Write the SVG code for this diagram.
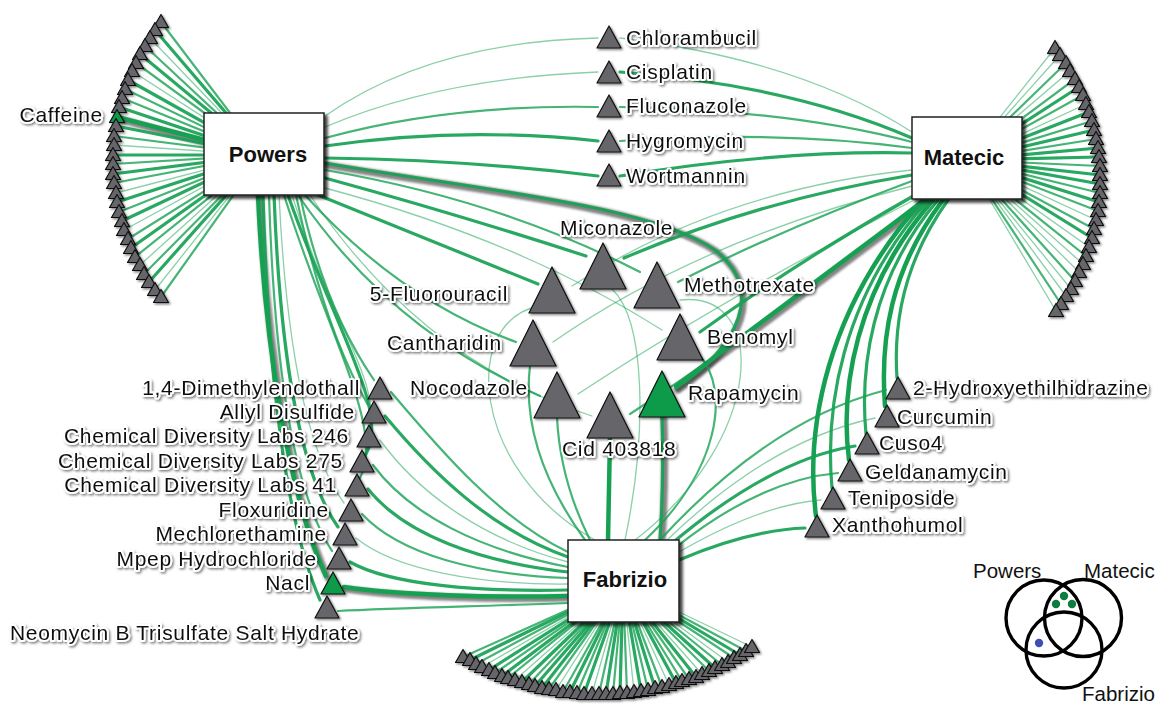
<svg xmlns="http://www.w3.org/2000/svg" xmlns:xlink="http://www.w3.org/1999/xlink" width="1158" height="705" viewBox="0 0 1158 705">
<defs>
<style>
.e{fill:none;stroke:#16a152;stroke-linecap:round}
.a{stroke-width:1.3;stroke-opacity:.5}
.b{stroke-width:2.2;stroke-opacity:.8}
.c{stroke-width:3.2;stroke-opacity:.92}
.d{stroke-width:4.5}
.s{fill:none;stroke:#333;stroke-width:7;stroke-opacity:.6;stroke-linecap:round}
.tg{fill:#66666b;stroke:#111;stroke-width:1.2;stroke-linejoin:round}
.tr{fill:#0f9a4a;stroke:#111;stroke-width:1.2;stroke-linejoin:round}
.box{fill:#fff;stroke:#222;stroke-width:1.5}
.t{font-family:"Liberation Sans",Arial,sans-serif;font-size:21px;letter-spacing:.7px;fill:#111}
.lg{font-family:"Liberation Sans",Arial,sans-serif;font-size:20.5px;fill:#111}
.h{paint-order:stroke;stroke:#fff;stroke-width:4;stroke-linejoin:round}
.bl{font-family:"Liberation Sans",Arial,sans-serif;font-size:22px;font-weight:bold;fill:#111}
.vc{fill:none;stroke:#000;stroke-width:3.4}
</style>
<path id="ts" d="M0 -7.5L7.5 5.5L-7.5 5.5Z"/>
<path id="tm" d="M0 -11L12 11L-12 11Z"/>
<path id="tl" d="M0 -23L23 23L-23 23Z"/>
<filter id="ds" x="-10%" y="-10%" width="130%" height="130%"><feDropShadow dx="3" dy="3" stdDeviation="1.5" flood-color="#000" flood-opacity="0.75"/></filter>
<filter id="dt" x="-20%" y="-20%" width="150%" height="150%"><feDropShadow dx="1.5" dy="1.5" stdDeviation="1" flood-color="#000" flood-opacity="0.5"/></filter>
<filter id="bl" x="-5%" y="-5%" width="110%" height="110%"><feGaussianBlur stdDeviation="1.3"/></filter>
</defs>
<rect width="1158" height="705" fill="#fff"/>
<g id="connectors">
<g id="shadows" transform="translate(2 2)" filter="url(#bl)">
<path class="s" d="M117 117L230 148"/>
<path class="s" d="M325 163C480 190 650 205 715 250C765 290 740 345 676 388"/>
<path class="s" d="M925 200L676 386"/>
<path class="s" d="M660 540Q664 480 662 416"/>
<path class="s" d="M258 195C265 350 290 500 326 576"/>
<path class="s" d="M344 587C400 595 490 598 568 596"/>
</g>
<g id="powers-fan-edges">
<path class="e b" d="M161 22L262 155"/>
<path class="e c" d="M155 30L262 155"/>
<path class="e a" d="M150 38L262 155"/>
<path class="e b" d="M145 46L262 155"/>
<path class="e c" d="M140 54L262 155"/>
<path class="e b" d="M136 63L262 155"/>
<path class="e a" d="M132 71L262 155"/>
<path class="e c" d="M128 80L262 155"/>
<path class="e b" d="M125 89L262 155"/>
<path class="e b" d="M122 98L262 155"/>
<path class="e c" d="M119 107L262 155"/>
<path class="e d" d="M117 117L262 155"/>
<path class="e c" d="M116 126L262 155"/>
<path class="e b" d="M114 136L262 155"/>
<path class="e a" d="M114 145L262 155"/>
<path class="e c" d="M113 155L262 155"/>
<path class="e b" d="M113 164L262 155"/>
<path class="e c" d="M113 174L262 155"/>
<path class="e b" d="M114 183L262 155"/>
<path class="e a" d="M116 193L262 155"/>
<path class="e c" d="M117 202L262 155"/>
<path class="e b" d="M119 212L262 155"/>
<path class="e c" d="M122 221L262 155"/>
<path class="e a" d="M124 230L262 155"/>
<path class="e b" d="M128 239L262 155"/>
<path class="e c" d="M131 248L262 155"/>
<path class="e b" d="M135 257L262 155"/>
<path class="e a" d="M140 265L262 155"/>
<path class="e b" d="M144 274L262 155"/>
<path class="e c" d="M149 282L262 155"/>
<path class="e a" d="M155 290L262 155"/>
<path class="e b" d="M161 297L262 155"/>
</g>
<g id="matecic-fan-edges">
<path class="e a" d="M1055 48L966 160"/>
<path class="e a" d="M1060 55L966 160"/>
<path class="e b" d="M1066 63L966 160"/>
<path class="e a" d="M1070 71L966 160"/>
<path class="e b" d="M1075 79L966 160"/>
<path class="e c" d="M1079 87L966 160"/>
<path class="e b" d="M1083 95L966 160"/>
<path class="e a" d="M1086 104L966 160"/>
<path class="e c" d="M1089 112L966 160"/>
<path class="e b" d="M1092 121L966 160"/>
<path class="e c" d="M1094 130L966 160"/>
<path class="e b" d="M1096 139L966 160"/>
<path class="e c" d="M1098 148L966 160"/>
<path class="e c" d="M1099 157L966 160"/>
<path class="e b" d="M1100 166L966 160"/>
<path class="e c" d="M1100 175L966 160"/>
<path class="e c" d="M1100 184L966 160"/>
<path class="e b" d="M1100 193L966 160"/>
<path class="e c" d="M1099 202L966 160"/>
<path class="e b" d="M1098 211L966 160"/>
<path class="e a" d="M1096 220L966 160"/>
<path class="e b" d="M1094 229L966 160"/>
<path class="e c" d="M1092 238L966 160"/>
<path class="e a" d="M1089 247L966 160"/>
<path class="e b" d="M1086 256L966 160"/>
<path class="e a" d="M1083 264L966 160"/>
<path class="e a" d="M1079 272L966 160"/>
<path class="e b" d="M1075 281L966 160"/>
<path class="e a" d="M1071 289L966 160"/>
<path class="e a" d="M1066 296L966 160"/>
<path class="e b" d="M1061 304L966 160"/>
<path class="e a" d="M1056 311L966 160"/>
</g>
<g id="fabrizio-fan-edges">
<path class="e b" d="M463 657L623 585"/>
<path class="e c" d="M470 660L623 585"/>
<path class="e b" d="M476 664L623 585"/>
<path class="e a" d="M482 667L623 585"/>
<path class="e c" d="M489 670L623 585"/>
<path class="e b" d="M495 673L623 585"/>
<path class="e c" d="M502 676L623 585"/>
<path class="e b" d="M508 678L623 585"/>
<path class="e a" d="M515 680L623 585"/>
<path class="e c" d="M522 682L623 585"/>
<path class="e b" d="M529 684L623 585"/>
<path class="e c" d="M535 686L623 585"/>
<path class="e c" d="M542 688L623 585"/>
<path class="e b" d="M549 689L623 585"/>
<path class="e a" d="M556 690L623 585"/>
<path class="e b" d="M563 692L623 585"/>
<path class="e c" d="M570 692L623 585"/>
<path class="e b" d="M577 693L623 585"/>
<path class="e c" d="M584 694L623 585"/>
<path class="e a" d="M592 694L623 585"/>
<path class="e b" d="M599 694L623 585"/>
<path class="e c" d="M606 694L623 585"/>
<path class="e b" d="M613 694L623 585"/>
<path class="e c" d="M620 693L623 585"/>
<path class="e b" d="M627 693L623 585"/>
<path class="e a" d="M634 692L623 585"/>
<path class="e c" d="M641 691L623 585"/>
<path class="e b" d="M648 690L623 585"/>
<path class="e c" d="M655 688L623 585"/>
<path class="e b" d="M662 687L623 585"/>
<path class="e a" d="M669 685L623 585"/>
<path class="e c" d="M676 683L623 585"/>
<path class="e b" d="M682 681L623 585"/>
<path class="e b" d="M689 679L623 585"/>
<path class="e c" d="M696 677L623 585"/>
<path class="e a" d="M702 674L623 585"/>
<path class="e b" d="M709 671L623 585"/>
<path class="e c" d="M715 668L623 585"/>
<path class="e b" d="M722 665L623 585"/>
<path class="e a" d="M728 662L623 585"/>
<path class="e b" d="M734 658L623 585"/>
<path class="e c" d="M740 655L623 585"/>
<path class="e b" d="M746 651L623 585"/>
<path class="e a" d="M752 647L623 585"/>
</g>
<g id="powers-matecic-edges">
<path class="e a" d="M325 116Q430 42 598 38"/>
<path class="e a" d="M325 127Q440 78 598 72"/>
<path class="e b" d="M325 138Q450 104 598 107"/>
<path class="e c" d="M325 146Q460 126 598 141"/>
<path class="e c" d="M325 158Q470 160 598 176"/>
<path class="e a" d="M620 38Q800 60 912 132"/>
<path class="e c" d="M620 72Q790 85 912 138"/>
<path class="e b" d="M620 107Q790 110 912 142"/>
<path class="e b" d="M620 141Q780 130 912 148"/>
<path class="e c" d="M620 176Q780 150 912 153"/>
</g>
<g id="cluster-edges">
<path class="e c" d="M318 195Q430 240 538 284"/>
<path class="e b" d="M305 195Q400 300 516 342"/>
<path class="e b" d="M298 195Q390 330 540 396"/>
<path class="e c" d="M325 178Q460 215 586 256"/>
<path class="e b" d="M325 170Q500 200 640 272"/>
<path class="e a" d="M325 188Q520 240 662 330"/>
<path class="e a" d="M310 195Q420 360 592 416"/>
<path class="e c" d="M325 163C480 190 650 205 715 250C765 290 740 345 676 388"/>
<path class="e c" d="M912 175Q760 200 624 258"/>
<path class="e b" d="M912 181Q780 230 678 282"/>
<path class="e c" d="M915 195Q800 260 700 332"/>
<path class="e a" d="M912 170Q720 190 572 286"/>
<path class="e a" d="M912 186Q700 240 553 342"/>
<path class="e a" d="M918 198Q720 300 578 394"/>
<path class="e b" d="M922 200Q760 330 630 414"/>
<path class="e d" d="M925 200L676 386"/>
<path class="e d" d="M608 540L610 437"/>
<path class="e b" d="M590 540Q560 480 557 417"/>
<path class="e b" d="M585 540Q520 450 530 366"/>
<path class="e a" d="M595 540C470 470 460 320 540 306"/>
<path class="e a" d="M625 540C648 430 645 320 612 289"/>
<path class="e a" d="M635 540C765 440 770 290 680 300"/>
<path class="e b" d="M645 540C720 470 730 390 700 356"/>
<path class="e c" d="M660 540Q664 480 662 416"/>
</g>
<g id="matecic-fabrizio-edges">
<path class="e c" d="M948 200C905 260 893 320 897 378"/>
<path class="e d" d="M943 200C890 270 880 340 885 406"/>
<path class="e c" d="M938 200C870 280 860 370 866 434"/>
<path class="e d" d="M933 200C855 290 840 390 849 460"/>
<path class="e c" d="M928 200C840 300 825 410 832 488"/>
<path class="e d" d="M923 200C825 310 805 430 816 516"/>
<path class="e b" d="M660 540Q770 420 886 390"/>
<path class="e a" d="M665 542Q770 440 875 418"/>
<path class="e c" d="M670 545Q770 460 855 446"/>
<path class="e b" d="M675 548Q760 480 838 473"/>
<path class="e a" d="M679 552Q760 505 821 500"/>
<path class="e c" d="M679 560Q750 530 805 528"/>
</g>
<g id="powers-fabrizio-edges">
<path class="e b" d="M300 195C320 290 350 345 374 380"/>
<path class="e b" d="M296 195C318 300 345 365 368 405"/>
<path class="e a" d="M292 195C330 320 380 380 370 428"/>
<path class="e c" d="M288 195C335 330 390 410 366 454"/>
<path class="e b" d="M284 195C330 340 385 430 360 478"/>
<path class="e a" d="M279 195C286 340 305 450 344 503"/>
<path class="e c" d="M274 195C280 350 298 470 338 527"/>
<path class="e b" d="M269 195C274 360 292 490 332 551"/>
<path class="e d" d="M258 195C265 350 290 500 326 576"/>
<path class="e c" d="M263 195C268 370 285 520 320 600"/>
<path class="e b" d="M391 392C440 450 500 520 568 552"/>
<path class="e c" d="M385 416C430 470 490 530 568 557"/>
<path class="e a" d="M380 440C420 495 485 540 568 562"/>
<path class="e b" d="M373 465C410 515 480 550 568 567"/>
<path class="e c" d="M368 489C405 535 480 562 568 572"/>
<path class="e b" d="M362 514C400 555 480 575 568 578"/>
<path class="e a" d="M356 538C395 570 480 585 568 584"/>
<path class="e c" d="M350 562C390 585 480 592 568 590"/>
<path class="e d" d="M344 587C400 595 490 598 568 596"/>
<path class="e b" d="M338 611C400 608 490 606 568 603"/>
</g>
</g>
<g id="powers-fan" filter="url(#dt)">
<g id="pw01"><use href="#ts" class="tg" x="161" y="22"/></g>
<g id="pw02"><use href="#ts" class="tg" x="155" y="30"/></g>
<g id="pw03"><use href="#ts" class="tg" x="150" y="38"/></g>
<g id="pw04"><use href="#ts" class="tg" x="145" y="46"/></g>
<g id="pw05"><use href="#ts" class="tg" x="140" y="54"/></g>
<g id="pw06"><use href="#ts" class="tg" x="136" y="63"/></g>
<g id="pw07"><use href="#ts" class="tg" x="132" y="71"/></g>
<g id="pw08"><use href="#ts" class="tg" x="128" y="80"/></g>
<g id="pw09"><use href="#ts" class="tg" x="125" y="89"/></g>
<g id="pw10"><use href="#ts" class="tg" x="122" y="98"/></g>
<g id="pw11"><use href="#ts" class="tg" x="119" y="107"/></g>
<g id="caffeine"><use href="#ts" class="tr" x="117" y="117"/><text class="t h" x="103" y="122" text-anchor="end">Caffeine</text></g>
<g id="pw13"><use href="#ts" class="tg" x="116" y="126"/></g>
<g id="pw14"><use href="#ts" class="tg" x="114" y="136"/></g>
<g id="pw15"><use href="#ts" class="tg" x="114" y="145"/></g>
<g id="pw16"><use href="#ts" class="tg" x="113" y="155"/></g>
<g id="pw17"><use href="#ts" class="tg" x="113" y="164"/></g>
<g id="pw18"><use href="#ts" class="tg" x="113" y="174"/></g>
<g id="pw19"><use href="#ts" class="tg" x="114" y="183"/></g>
<g id="pw20"><use href="#ts" class="tg" x="116" y="193"/></g>
<g id="pw21"><use href="#ts" class="tg" x="117" y="202"/></g>
<g id="pw22"><use href="#ts" class="tg" x="119" y="212"/></g>
<g id="pw23"><use href="#ts" class="tg" x="122" y="221"/></g>
<g id="pw24"><use href="#ts" class="tg" x="124" y="230"/></g>
<g id="pw25"><use href="#ts" class="tg" x="128" y="239"/></g>
<g id="pw26"><use href="#ts" class="tg" x="131" y="248"/></g>
<g id="pw27"><use href="#ts" class="tg" x="135" y="257"/></g>
<g id="pw28"><use href="#ts" class="tg" x="140" y="265"/></g>
<g id="pw29"><use href="#ts" class="tg" x="144" y="274"/></g>
<g id="pw30"><use href="#ts" class="tg" x="149" y="282"/></g>
<g id="pw31"><use href="#ts" class="tg" x="155" y="290"/></g>
<g id="pw32"><use href="#ts" class="tg" x="161" y="297"/></g>
</g>
<g id="matecic-fan" filter="url(#dt)">
<g id="mt01"><use href="#ts" class="tg" x="1055" y="48"/></g>
<g id="mt02"><use href="#ts" class="tg" x="1060" y="55"/></g>
<g id="mt03"><use href="#ts" class="tg" x="1066" y="63"/></g>
<g id="mt04"><use href="#ts" class="tg" x="1070" y="71"/></g>
<g id="mt05"><use href="#ts" class="tg" x="1075" y="79"/></g>
<g id="mt06"><use href="#ts" class="tg" x="1079" y="87"/></g>
<g id="mt07"><use href="#ts" class="tg" x="1083" y="95"/></g>
<g id="mt08"><use href="#ts" class="tg" x="1086" y="104"/></g>
<g id="mt09"><use href="#ts" class="tg" x="1089" y="112"/></g>
<g id="mt10"><use href="#ts" class="tg" x="1092" y="121"/></g>
<g id="mt11"><use href="#ts" class="tg" x="1094" y="130"/></g>
<g id="mt12"><use href="#ts" class="tg" x="1096" y="139"/></g>
<g id="mt13"><use href="#ts" class="tg" x="1098" y="148"/></g>
<g id="mt14"><use href="#ts" class="tg" x="1099" y="157"/></g>
<g id="mt15"><use href="#ts" class="tg" x="1100" y="166"/></g>
<g id="mt16"><use href="#ts" class="tg" x="1100" y="175"/></g>
<g id="mt17"><use href="#ts" class="tg" x="1100" y="184"/></g>
<g id="mt18"><use href="#ts" class="tg" x="1100" y="193"/></g>
<g id="mt19"><use href="#ts" class="tg" x="1099" y="202"/></g>
<g id="mt20"><use href="#ts" class="tg" x="1098" y="211"/></g>
<g id="mt21"><use href="#ts" class="tg" x="1096" y="220"/></g>
<g id="mt22"><use href="#ts" class="tg" x="1094" y="229"/></g>
<g id="mt23"><use href="#ts" class="tg" x="1092" y="238"/></g>
<g id="mt24"><use href="#ts" class="tg" x="1089" y="247"/></g>
<g id="mt25"><use href="#ts" class="tg" x="1086" y="256"/></g>
<g id="mt26"><use href="#ts" class="tg" x="1083" y="264"/></g>
<g id="mt27"><use href="#ts" class="tg" x="1079" y="272"/></g>
<g id="mt28"><use href="#ts" class="tg" x="1075" y="281"/></g>
<g id="mt29"><use href="#ts" class="tg" x="1071" y="289"/></g>
<g id="mt30"><use href="#ts" class="tg" x="1066" y="296"/></g>
<g id="mt31"><use href="#ts" class="tg" x="1061" y="304"/></g>
<g id="mt32"><use href="#ts" class="tg" x="1056" y="311"/></g>
</g>
<g id="fabrizio-fan" filter="url(#dt)">
<g id="fb01"><use href="#ts" class="tg" x="463" y="657"/></g>
<g id="fb02"><use href="#ts" class="tg" x="470" y="660"/></g>
<g id="fb03"><use href="#ts" class="tg" x="476" y="664"/></g>
<g id="fb04"><use href="#ts" class="tg" x="482" y="667"/></g>
<g id="fb05"><use href="#ts" class="tg" x="489" y="670"/></g>
<g id="fb06"><use href="#ts" class="tg" x="495" y="673"/></g>
<g id="fb07"><use href="#ts" class="tg" x="502" y="676"/></g>
<g id="fb08"><use href="#ts" class="tg" x="508" y="678"/></g>
<g id="fb09"><use href="#ts" class="tg" x="515" y="680"/></g>
<g id="fb10"><use href="#ts" class="tg" x="522" y="682"/></g>
<g id="fb11"><use href="#ts" class="tg" x="529" y="684"/></g>
<g id="fb12"><use href="#ts" class="tg" x="535" y="686"/></g>
<g id="fb13"><use href="#ts" class="tg" x="542" y="688"/></g>
<g id="fb14"><use href="#ts" class="tg" x="549" y="689"/></g>
<g id="fb15"><use href="#ts" class="tg" x="556" y="690"/></g>
<g id="fb16"><use href="#ts" class="tg" x="563" y="692"/></g>
<g id="fb17"><use href="#ts" class="tg" x="570" y="692"/></g>
<g id="fb18"><use href="#ts" class="tg" x="577" y="693"/></g>
<g id="fb19"><use href="#ts" class="tg" x="584" y="694"/></g>
<g id="fb20"><use href="#ts" class="tg" x="592" y="694"/></g>
<g id="fb21"><use href="#ts" class="tg" x="599" y="694"/></g>
<g id="fb22"><use href="#ts" class="tg" x="606" y="694"/></g>
<g id="fb23"><use href="#ts" class="tg" x="613" y="694"/></g>
<g id="fb24"><use href="#ts" class="tg" x="620" y="693"/></g>
<g id="fb25"><use href="#ts" class="tg" x="627" y="693"/></g>
<g id="fb26"><use href="#ts" class="tg" x="634" y="692"/></g>
<g id="fb27"><use href="#ts" class="tg" x="641" y="691"/></g>
<g id="fb28"><use href="#ts" class="tg" x="648" y="690"/></g>
<g id="fb29"><use href="#ts" class="tg" x="655" y="688"/></g>
<g id="fb30"><use href="#ts" class="tg" x="662" y="687"/></g>
<g id="fb31"><use href="#ts" class="tg" x="669" y="685"/></g>
<g id="fb32"><use href="#ts" class="tg" x="676" y="683"/></g>
<g id="fb33"><use href="#ts" class="tg" x="682" y="681"/></g>
<g id="fb34"><use href="#ts" class="tg" x="689" y="679"/></g>
<g id="fb35"><use href="#ts" class="tg" x="696" y="677"/></g>
<g id="fb36"><use href="#ts" class="tg" x="702" y="674"/></g>
<g id="fb37"><use href="#ts" class="tg" x="709" y="671"/></g>
<g id="fb38"><use href="#ts" class="tg" x="715" y="668"/></g>
<g id="fb39"><use href="#ts" class="tg" x="722" y="665"/></g>
<g id="fb40"><use href="#ts" class="tg" x="728" y="662"/></g>
<g id="fb41"><use href="#ts" class="tg" x="734" y="658"/></g>
<g id="fb42"><use href="#ts" class="tg" x="740" y="655"/></g>
<g id="fb43"><use href="#ts" class="tg" x="746" y="651"/></g>
<g id="fb44"><use href="#ts" class="tg" x="752" y="647"/></g>
</g>
<g id="top-column" filter="url(#dt)">
<g id="chlorambucil"><use href="#tm" class="tg" x="609" y="37"/><text class="t h" x="626" y="45">Chlorambucil</text></g>
<g id="cisplatin"><use href="#tm" class="tg" x="609" y="72"/><text class="t h" x="626" y="79">Cisplatin</text></g>
<g id="fluconazole"><use href="#tm" class="tg" x="609" y="106"/><text class="t h" x="626" y="113">Fluconazole</text></g>
<g id="hygromycin"><use href="#tm" class="tg" x="609" y="141"/><text class="t h" x="626" y="148">Hygromycin</text></g>
<g id="wortmannin"><use href="#tm" class="tg" x="609" y="175"/><text class="t h" x="626" y="183">Wortmannin</text></g>
</g>
<g id="cluster" filter="url(#dt)">
<g id="miconazole"><use href="#tl" class="tg" x="603" y="266"/><text class="t h" x="560" y="235">Miconazole</text></g>
<g id="fluorouracil"><use href="#tl" class="tg" x="552" y="290"/><text class="t h" x="508" y="301" text-anchor="end">5-Fluorouracil</text></g>
<g id="methotrexate"><use href="#tl" class="tg" x="657" y="285"/><text class="t h" x="684" y="292">Methotrexate</text></g>
<g id="cantharidin"><use href="#tl" class="tg" x="533" y="343"/><text class="t h" x="502" y="350" text-anchor="end">Cantharidin</text></g>
<g id="benomyl"><use href="#tl" class="tg" x="680" y="337"/><text class="t h" x="707" y="344">Benomyl</text></g>
<g id="nocodazole"><use href="#tl" class="tg" x="557" y="395"/><text class="t h" x="528" y="395" text-anchor="end">Nocodazole</text></g>
<g id="cid403818"><use href="#tl" class="tg" x="610" y="415"/><text class="t h" x="562" y="456">Cid 403818</text></g>
<g id="rapamycin"><use href="#tl" class="tr" x="662" y="394"/><text class="t h" x="688" y="400">Rapamycin</text></g>
</g>
<g id="left-column" filter="url(#dt)">
<g id="dimethylendothall"><use href="#tm" class="tg" x="380" y="388"/><text class="t h" x="360" y="395" text-anchor="end">1,4-Dimethylendothall</text></g>
<g id="allyl-disulfide"><use href="#tm" class="tg" x="374" y="412"/><text class="t h" x="355" y="419" text-anchor="end">Allyl Disulfide</text></g>
<g id="cdl246"><use href="#tm" class="tg" x="369" y="436"/><text class="t h" x="349" y="443" text-anchor="end">Chemical Diversity Labs 246</text></g>
<g id="cdl275"><use href="#tm" class="tg" x="362" y="461"/><text class="t h" x="343" y="468" text-anchor="end">Chemical Diversity Labs 275</text></g>
<g id="cdl41"><use href="#tm" class="tg" x="357" y="485"/><text class="t h" x="337" y="492" text-anchor="end">Chemical Diversity Labs 41</text></g>
<g id="floxuridine"><use href="#tm" class="tg" x="351" y="510"/><text class="t h" x="329" y="517" text-anchor="end">Floxuridine</text></g>
<g id="mechlorethamine"><use href="#tm" class="tg" x="345" y="534"/><text class="t h" x="327" y="541" text-anchor="end">Mechlorethamine</text></g>
<g id="mpep"><use href="#tm" class="tg" x="339" y="558"/><text class="t h" x="317" y="566" text-anchor="end">Mpep Hydrochloride</text></g>
<g id="nacl"><use href="#tm" class="tr" x="333" y="583"/><text class="t h" x="310" y="590" text-anchor="end">Nacl</text></g>
<g id="neomycin"><use href="#tm" class="tg" x="327" y="607"/><text class="t h" x="10" y="640">Neomycin B Trisulfate Salt Hydrate</text></g>
</g>
<g id="right-column" filter="url(#dt)">
<g id="hydroxyethilhidrazine"><use href="#tm" class="tg" x="898" y="388"/><text class="t h" x="913" y="395">2-Hydroxyethilhidrazine</text></g>
<g id="curcumin"><use href="#tm" class="tg" x="887" y="416"/><text class="t h" x="897" y="424">Curcumin</text></g>
<g id="cuso4"><use href="#tm" class="tg" x="867" y="443"/><text class="t h" x="879" y="450">Cuso4</text></g>
<g id="geldanamycin"><use href="#tm" class="tg" x="850" y="470"/><text class="t h" x="865" y="479">Geldanamycin</text></g>
<g id="teniposide"><use href="#tm" class="tg" x="833" y="498"/><text class="t h" x="848" y="505">Teniposide</text></g>
<g id="xanthohumol"><use href="#tm" class="tg" x="817" y="526"/><text class="t h" x="832" y="532">Xanthohumol</text></g>
</g>
<g id="powers"><rect class="box" x="204" y="113" width="120" height="82" filter="url(#ds)"/><text class="bl" x="268" y="162" text-anchor="middle">Powers</text></g>
<g id="matecic"><rect class="box" x="912" y="117" width="110" height="82" filter="url(#ds)"/><text class="bl" x="964" y="165" text-anchor="middle">Matecic</text></g>
<g id="fabrizio"><rect class="box" x="568" y="540" width="111" height="82" filter="url(#ds)"/><text class="bl" x="625" y="587" text-anchor="middle">Fabrizio</text></g>
<g id="legend">
<circle class="vc" cx="1044" cy="618" r="38"/>
<circle class="vc" cx="1083" cy="618" r="38.5"/>
<circle class="vc" cx="1064" cy="650" r="38"/>
<circle cx="1064" cy="596" r="4.2" fill="#0b7d3e"/>
<circle cx="1056" cy="604" r="4.2" fill="#0b7d3e"/>
<circle cx="1072" cy="604" r="4.2" fill="#0b7d3e"/>
<circle cx="1039" cy="643" r="4.2" fill="#3b4fb5"/>
<text class="lg" x="973" y="578">Powers</text>
<text class="lg" x="1084" y="578">Matecic</text>
<text class="lg" x="1082" y="701">Fabrizio</text>
</g>
</svg>
